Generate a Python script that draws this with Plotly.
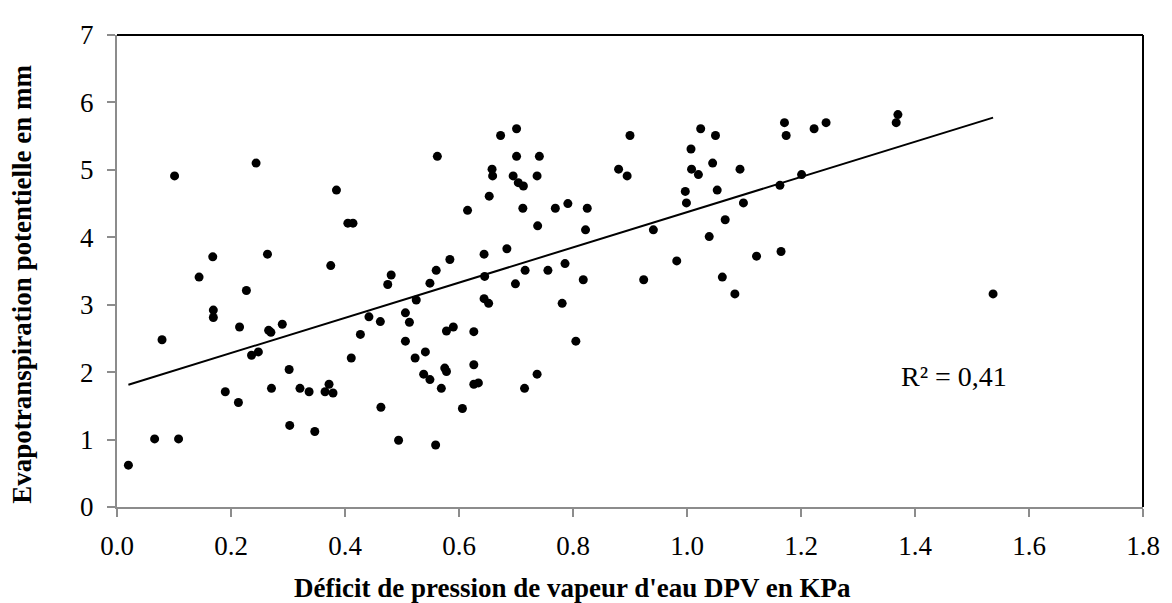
import numpy as np
import plotly.graph_objects as go

# Déficit de pression de vapeur (KPa)
dpv = [
    0.101, 0.244, 0.385, 0.405, 0.414, 0.168, 0.264, 0.375, 0.144, 0.227,
    0.169, 0.169, 0.215, 0.266, 0.270, 0.290, 0.079, 0.442, 0.462, 0.427,
    0.236, 0.248, 0.411, 0.302, 0.190, 0.213, 0.271, 0.321, 0.337, 0.372,
    0.365, 0.379, 0.463, 0.303, 0.347, 0.066, 0.108, 0.020,
    0.701, 0.673, 0.562, 0.701, 0.741, 0.900, 0.658, 0.659, 0.695, 0.704,
    0.713, 0.737, 0.880, 0.895, 0.653, 0.615, 0.712, 0.769, 0.791, 0.825,
    0.738, 0.822, 0.684, 0.644, 0.584, 0.560, 0.481, 0.475, 0.549, 0.645,
    0.716, 0.756, 0.786, 0.699, 0.818, 0.924, 0.525, 0.644, 0.652, 0.781,
    1.370, 1.367, 1.171, 1.244, 1.223, 1.174, 1.024, 1.050, 1.007, 1.045,
    1.008, 1.020, 1.093, 0.997, 1.053, 0.999, 1.099, 1.201, 1.163, 1.067,
    0.941, 1.039, 0.982, 1.122, 1.165, 1.062, 1.084, 1.537,
    0.506, 0.513, 0.578, 0.590, 0.626, 0.805, 0.506, 0.541, 0.523, 0.575,
    0.578, 0.626, 0.538, 0.549, 0.569, 0.626, 0.634, 0.737, 0.715, 0.606,
    0.494, 0.559,
]

# Evapotranspiration potentielle (mm)
etp = [
    4.91, 5.10, 4.70, 4.21, 4.21, 3.71, 3.75, 3.58, 3.41, 3.21,
    2.92, 2.81, 2.67, 2.62, 2.59, 2.71, 2.48, 2.82, 2.75, 2.56,
    2.25, 2.30, 2.21, 2.04, 1.71, 1.55, 1.76, 1.76, 1.71, 1.82,
    1.71, 1.69, 1.48, 1.21, 1.12, 1.01, 1.01, 0.62,
    5.61, 5.51, 5.20, 5.20, 5.20, 5.51, 5.01, 4.91, 4.91, 4.81,
    4.76, 4.91, 5.01, 4.91, 4.61, 4.40, 4.43, 4.43, 4.50, 4.43,
    4.17, 4.11, 3.83, 3.75, 3.67, 3.51, 3.44, 3.30, 3.32, 3.42,
    3.51, 3.51, 3.61, 3.31, 3.37, 3.37, 3.07, 3.09, 3.02, 3.02,
    5.82, 5.70, 5.70, 5.70, 5.61, 5.51, 5.61, 5.51, 5.31, 5.10,
    5.01, 4.93, 5.01, 4.68, 4.70, 4.51, 4.51, 4.93, 4.77, 4.26,
    4.11, 4.01, 3.65, 3.72, 3.79, 3.41, 3.16, 3.16,
    2.88, 2.74, 2.61, 2.67, 2.60, 2.46, 2.46, 2.30, 2.21, 2.06,
    2.01, 2.11, 1.97, 1.89, 1.76, 1.82, 1.84, 1.97, 1.76, 1.46,
    0.99, 0.92,
]

r2_label = "R² = 0,41"

# Linear trend line over the data range
slope, intercept = np.polyfit(dpv, etp, 1)
x_fit = np.array([min(dpv), max(dpv)])
y_fit = slope * x_fit + intercept

font_main = "Liberation Serif, Times New Roman, serif"

fig = go.Figure()

fig.add_trace(go.Scatter(
    x=x_fit, y=y_fit, mode="lines",
    line=dict(color="black", width=2),
    hoverinfo="skip",
))

fig.add_trace(go.Scatter(
    x=dpv, y=etp, mode="markers",
    marker=dict(color="black", size=9),
))

# the page body keeps an 8px margin, so the figure is 8px smaller
fig.update_layout(
    width=1164, height=595,
    margin=dict(l=109, r=24, t=12, b=96),
    paper_bgcolor="white", plot_bgcolor="white",
    showlegend=False,
    font=dict(family=font_main, size=27, color="black"),
    xaxis=dict(
        range=[0, 1.8], dtick=0.2, tickformat=".1f",
        showgrid=False, zeroline=False,
        showline=True, linecolor="#8c8c8c", linewidth=2,
        ticks="outside", ticklen=8, tickcolor="#8c8c8c", tickwidth=2,
        ticklabelstandoff=6, ticklabeloverflow="allow",
    ),
    yaxis=dict(
        range=[0, 7], dtick=1,
        showgrid=False, zeroline=False,
        showline=True, linecolor="#8c8c8c", linewidth=2,
        ticks="outside", ticklen=8, tickcolor="#8c8c8c", tickwidth=2,
        ticklabelstandoff=8, ticklabeloverflow="allow",
    ),
    shapes=[
        dict(type="line", xref="paper", yref="paper", x0=0, x1=1, y0=1, y1=1,
             line=dict(color="black", width=2)),
        dict(type="line", xref="paper", yref="paper", x0=1, x1=1, y0=0, y1=1,
             line=dict(color="black", width=2)),
    ],
    annotations=[
        dict(text="<b>Déficit de pression de vapeur d'eau DPV en KPa</b>",
             xref="paper", yref="paper", x=0.444, y=-0.172,
             xanchor="center", yanchor="middle",
             showarrow=False, font=dict(size=27)),
        dict(text="<b>Evapotranspiration potentielle en mm</b>",
             xref="paper", yref="paper", x=-0.092, y=0.472, textangle=-90,
             xanchor="center", yanchor="middle",
             showarrow=False, font=dict(size=27)),
        dict(text=r2_label, x=1.469, y=1.93, xref="x", yref="y",
             xanchor="center", yanchor="middle",
             showarrow=False, font=dict(size=28)),
    ],
)

fig.write_html("out.html")
